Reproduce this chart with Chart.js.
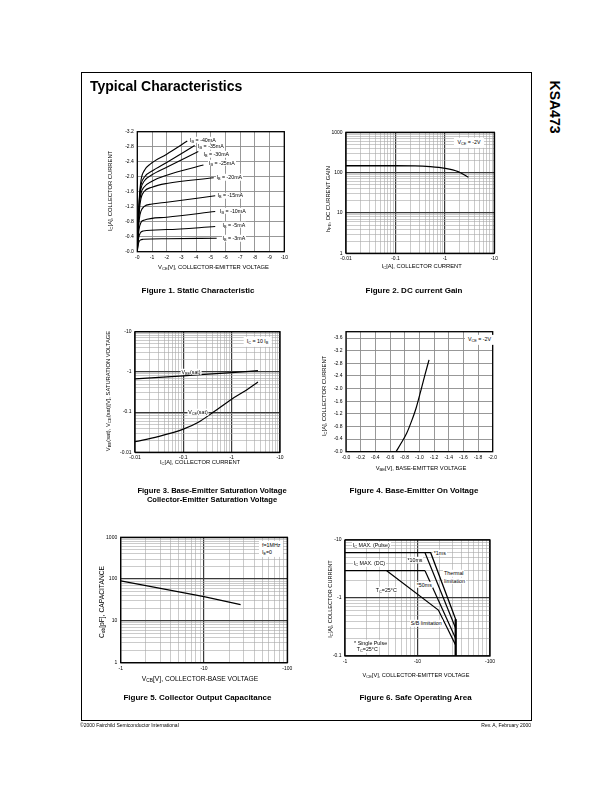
<!DOCTYPE html>
<html><head><meta charset="utf-8">
<script src="https://cdn.jsdelivr.net/npm/chart.js@4/dist/chart.umd.min.js"></script>
<style>
body{margin:0;background:#fff;}
#page{position:relative;width:612px;height:792px;overflow:hidden;font-family:'Liberation Sans',Arial,Helvetica,sans-serif;color:#000;background:#fff;}
canvas{position:absolute;}
.t{position:absolute;white-space:nowrap;line-height:1;z-index:3;}
.t sub{font-size:72%;vertical-align:-0.3em;line-height:0;}
</style></head><body><div id="page"></div>
<script>
// ---------------- DATA ----------------
// Figure 1 : Static Characteristic (|VCE| in V, |IC| in A)
const fig1VceTicks = [0,1,2,3,4,5,6,7,8,9,10];
const fig1VceLabels = ['-0','-1','-2','-3','-4','-5','-6','-7','-8','-9','-10'];
const fig1IcTicks = [0,0.4,0.8,1.2,1.6,2.0,2.4,2.8,3.2];
const fig1IcLabels = ['-0.0','-0.4','-0.8','-1.2','-1.6','-2.0','-2.4','-2.8','-3.2'];
const fig1Ib = ['-40mA','-35mA','-30mA','-25mA','-20mA','-15mA','-10mA','-5mA','-3mA'];
const fig1Vce_40 = [0,0.05,0.14,0.25,0.5,0.86,2,3.4];
const fig1Ic_40  = [0,0.6,1.45,1.9,2.18,2.33,2.6,2.95];
const fig1Vce_35 = [0,0.05,0.14,0.25,0.5,1,2,3.9];
const fig1Ic_35  = [0,0.6,1.4,1.78,2.0,2.15,2.38,2.83];
const fig1Vce_30 = [0,0.05,0.14,0.25,0.5,1,2,4.15];
const fig1Ic_30  = [0,0.58,1.35,1.68,1.9,2.05,2.25,2.67];
const fig1Vce_25 = [0,0.05,0.14,0.25,0.45,1,2,4.5];
const fig1Ic_25  = [0,0.55,1.25,1.55,1.72,1.88,2.04,2.31];
const fig1Vce_20 = [0,0.05,0.14,0.25,0.45,1,2,5.2];
const fig1Ic_20  = [0,0.5,1.1,1.42,1.6,1.72,1.82,1.97];
const fig1Vce_15 = [0,0.05,0.14,0.25,0.45,1,2,5.3];
const fig1Ic_15  = [0,0.42,0.88,1.08,1.2,1.27,1.32,1.49];
const fig1Vce_10 = [0,0.05,0.12,0.25,0.45,2,5.3];
const fig1Ic_10  = [0,0.33,0.6,0.78,0.84,0.92,1.07];
const fig1Vce_5  = [0,0.04,0.1,0.2,0.4,2,5.3];
const fig1Ic_5   = [0,0.2,0.38,0.5,0.55,0.59,0.67];
const fig1Vce_3  = [0,0.04,0.1,0.2,0.4,2,5.4];
const fig1Ic_3   = [0,0.14,0.25,0.31,0.33,0.345,0.36];

// Figure 2 : DC current gain
const fig2IcTicks = [0.01,0.1,1,10];
const fig2IcLabels = ['-0.01','-0.1','-1','-10'];
const fig2HfeTicks = [1,10,100,1000];
const fig2HfeLabels = ['1','10','100','1000'];
const fig2Ic  = [0.01,0.1,0.25,0.5,1,1.85,3];
const fig2Hfe = [148,148,147,141,128,106,77];

// Figure 3 : saturation voltages
const fig3IcTicks = [0.01,0.1,1,10];
const fig3IcLabels = ['-0.01','-0.1','-1','-10'];
const fig3VTicks = [0.01,0.1,1,10];
const fig3VLabels = ['-0.01','-0.1','-1','-10'];
const fig3IcBe = [0.01,0.1,1,3.5];
const fig3Vbe  = [0.67,0.8,0.96,1.07];
const fig3IcCe = [0.01,0.03,0.1,0.2,0.42,1,2,3.5];
const fig3Vce  = [0.0184,0.0245,0.0376,0.055,0.1,0.21,0.35,0.56];

// Figure 4 : base-emitter on voltage
const fig4VbeTicks = [0,0.2,0.4,0.6,0.8,1.0,1.2,1.4,1.6,1.8,2.0];
const fig4VbeLabels = ['-0.0','-0.2','-0.4','-0.6','-0.8','-1.0','-1.2','-1.4','-1.6','-1.8','-2.0'];
const fig4IcTicks = [0,0.4,0.8,1.2,1.6,2.0,2.4,2.8,3.2,3.6];
const fig4IcLabels = ['-0.0','-0.4','-0.8','-1.2','-1.6','-2.0','-2.4','-2.8','-3.2','-3.6'];
const fig4Vbe = [0.682,0.759,0.827,0.895,0.955,1.023,1.077,1.132];
const fig4Ic  = [0,0.297,0.583,0.975,1.377,1.96,2.44,2.91];

// Figure 5 : collector output capacitance
const fig5VcbTicks = [1,10,100];
const fig5VcbLabels = ['-1','-10','-100'];
const fig5CobTicks = [1,10,100,1000];
const fig5CobLabels = ['1','10','100','1000'];
const fig5Vcb = [1,3,10,27.5];
const fig5Cob = [91,60,38,24.5];

// Figure 6 : safe operating area
const fig6VceTicks = [1,10,100];
const fig6VceLabels = ['-1','-10','-100'];
const fig6IcTicks = [0.1,1,10];
const fig6IcLabels = ['-0.1','-1','-10'];
const fig6Vce_1ms = [1,15.2,33.6,33.6];
const fig6Ic_1ms  = [6.05,6.05,0.43,0.1];
const fig6Vce_10ms = [12.7,33.6];
const fig6Ic_10ms  = [6.05,0.30];
const fig6Vce_50ms = [12.7,33.6];
const fig6Ic_50ms  = [2.96,0.20];
const fig6Vce_dcMax = [1,12.7];
const fig6Ic_dcMax  = [2.96,2.96];
const fig6Vce_tc = [3.76,19.4,33.6];
const fig6Ic_tc  = [2.96,0.62,0.154];

// ---------------- RENDER ----------------
const FONT = "'Liberation Sans', Arial, Helvetica, sans-serif";
const page = document.getElementById('page');
Chart.defaults.font.family = FONT;

function logGrid(min,max){
  const out=[];
  for(let e=Math.floor(Math.log10(min)); e<=Math.ceil(Math.log10(max)); e++)
    for(let m=1;m<10;m++){ const v=m*Math.pow(10,e); if(v>=min*0.999 && v<=max*1.001) out.push(v); }
  return out;
}
function scaleCfg(o){
  const log = o.type==='logarithmic';
  let tks;
  if(log){
    tks = logGrid(o.min,o.max).map(v=>({value:v,major:false}));
    o.vals.forEach(v=>{ const t=tks.find(t=>Math.abs(Math.log10(t.value/v))<1e-6); if(t){t.value=v;t.major=true;} });
  } else tks = o.vals.map(v=>({value:v,major:true}));
  return {
    type:o.type, min:o.min, max:o.max, position:o.pos,
    afterBuildTicks: s=>{ s.ticks = tks.map(t=>({value:t.value,major:t.major})); },
    afterFit: s=>{ if(o.pos==='left') s.width=o.size; else s.height=o.size; s.paddingLeft=0; s.paddingRight=0; s.paddingTop=0; s.paddingBottom=0; },
    ticks:{autoSkip:false,maxRotation:0,minRotation:0,padding:o.pos==='left'?3.5:2.5,color:'#000',
      font:{family:FONT,size:5},
      callback:(v,i,arr)=>{ if(!arr[i].major) return ''; const k=o.vals.indexOf(v); return k>=0?o.labels[k]:''; }},
    grid:{drawTicks:false,
      color:c=>{ const mj=c.tick&&c.tick.major; return log ? (mj?'#3a3a3a':'#a8a8a8') : '#8c8c8c'; },
      lineWidth:c=>{ const mj=c.tick&&c.tick.major; return log ? (mj?1.2:0.6) : 0.9; }},
    border:{display:false}
  };
}
const frameBox = {id:'frameBox', beforeDatasetsDraw(chart){
  const a=chart.chartArea, c=chart.ctx; c.save(); c.strokeStyle='#000'; c.lineWidth=1.3;
  c.strokeRect(a.left,a.top,a.right-a.left,a.bottom-a.top); c.restore(); }};

function series(xs,ys,w,smooth){
  return {data:xs.map((x,i)=>({x:x,y:ys[i]})), showLine:true, borderColor:'#000', backgroundColor:'#000',
    borderWidth:w||1.1, pointRadius:0, fill:false,
    cubicInterpolationMode: smooth?'monotone':'default', tension:0};
}
function mkChart(P,xo,yo,datasets){
  const cl=Math.floor(P.L)-30, ct=Math.floor(P.T)-8;
  const cw=Math.ceil(P.R)+10-cl, ch=Math.ceil(P.B)+14-ct;
  const cv=document.createElement('canvas');
  cv.width=cw; cv.height=ch;
  cv.style.left=cl+'px'; cv.style.top=ct+'px'; cv.style.width=cw+'px'; cv.style.height=ch+'px';
  page.appendChild(cv);
  xo.pos='bottom'; xo.size=12; yo.pos='left'; yo.size=P.L-cl;
  new Chart(cv,{type:'scatter',data:{datasets:datasets},
    options:{responsive:false,animation:false,devicePixelRatio:1,
      layout:{padding:{left:0,top:P.T-ct,right:cl+cw-P.R,bottom:ct+ch-P.B-12}},
      plugins:{legend:{display:false},tooltip:{enabled:false}},
      scales:{x:scaleCfg(xo),y:scaleCfg(yo)}},
    plugins:[frameBox]});
}

// Figure 1
mkChart({L:137.3,T:131.7,R:284.3,B:251.7},
  {type:'linear',min:0,max:10,vals:fig1VceTicks,labels:fig1VceLabels},
  {type:'linear',min:0,max:3.2,vals:fig1IcTicks,labels:fig1IcLabels},
  [series(fig1Vce_40,fig1Ic_40,1.1,true),series(fig1Vce_35,fig1Ic_35,1.1,true),series(fig1Vce_30,fig1Ic_30,1.1,true),
   series(fig1Vce_25,fig1Ic_25,1.1,true),series(fig1Vce_20,fig1Ic_20,1.1,true),series(fig1Vce_15,fig1Ic_15,1.1,true),
   series(fig1Vce_10,fig1Ic_10,1.1,true),series(fig1Vce_5,fig1Ic_5,1.1,true),series(fig1Vce_3,fig1Ic_3,1.1,true)]);
// Figure 2
mkChart({L:346,T:132.3,R:494.3,B:253.3},
  {type:'logarithmic',min:0.01,max:10,vals:fig2IcTicks,labels:fig2IcLabels},
  {type:'logarithmic',min:1,max:1000,vals:fig2HfeTicks,labels:fig2HfeLabels},
  [series(fig2Ic,fig2Hfe,1.3,true)]);
// Figure 3
mkChart({L:135,T:331.7,R:280,B:452.3},
  {type:'logarithmic',min:0.01,max:10,vals:fig3IcTicks,labels:fig3IcLabels},
  {type:'logarithmic',min:0.01,max:10,vals:fig3VTicks,labels:fig3VLabels},
  [series(fig3IcBe,fig3Vbe,1.2,true),series(fig3IcCe,fig3Vce,1.2,true)]);
// Figure 4
mkChart({L:346,T:331.7,R:492.7,B:451.7},
  {type:'linear',min:0,max:2.0,vals:fig4VbeTicks,labels:fig4VbeLabels},
  {type:'linear',min:0,max:3.8,vals:fig4IcTicks,labels:fig4IcLabels},
  [series(fig4Vbe,fig4Ic,1.2,true)]);
// Figure 5
mkChart({L:120.7,T:537.3,R:287.3,B:662.7},
  {type:'logarithmic',min:1,max:100,vals:fig5VcbTicks,labels:fig5VcbLabels},
  {type:'logarithmic',min:1,max:1000,vals:fig5CobTicks,labels:fig5CobLabels},
  [series(fig5Vcb,fig5Cob,1.2,false)]);
// Figure 6
mkChart({L:345,T:540,R:490,B:656},
  {type:'logarithmic',min:1,max:100,vals:fig6VceTicks,labels:fig6VceLabels},
  {type:'logarithmic',min:0.1,max:10,vals:fig6IcTicks,labels:fig6IcLabels},
  [series(fig6Vce_1ms,fig6Ic_1ms,1.3,false),series(fig6Vce_10ms,fig6Ic_10ms,1.2,false),
   series(fig6Vce_50ms,fig6Ic_50ms,1.2,false),series(fig6Vce_dcMax,fig6Ic_dcMax,1.3,false),
   series(fig6Vce_tc,fig6Ic_tc,1.2,false),
   series([33.6,33.6],[0.43,0.1],2.2,false)]);

// ---------------- TEXT ----------------
function txt(html,x,y,o){
  o=o||{};
  const d=document.createElement('div'); d.className='t'; d.innerHTML=html;
  d.style.fontSize=(o.size||5.5)+'px';
  if(o.bold) d.style.fontWeight='bold';
  if(o.bg){ d.style.background='#fff'; d.style.padding=o.pad||'0.6px 0.8px'; }
  if(o.ls) d.style.letterSpacing=o.ls+'px';
  const tx = o.align==='l'?'0':(o.align==='r'?'-100%':'-50%');
  d.style.left=x+'px'; d.style.top=y+'px';
  d.style.transform='translate('+tx+',-50%)'+(o.rot?' rotate('+o.rot+'deg)':'');
  page.appendChild(d); return d;
}
// frame
const fr=document.createElement('div');
fr.style.cssText='position:absolute;left:81px;top:71.7px;width:449px;height:647px;border:1.3px solid #000;z-index:1;';
page.appendChild(fr);
txt('Typical Characteristics',90,85.5,{size:14,bold:true,align:'l'});
txt('KSA473',554.5,107,{size:14,bold:true,rot:90});
txt('&copy;2000 Fairchild Semiconductor International',80,724.5,{size:5,align:'l'});
txt('Rev. A, February 2000',531,724.5,{size:5,align:'r'});

// captions
txt('Figure 1. Static Characteristic',198,291,{size:8,bold:true});
txt('Figure 2. DC current Gain',414,291,{size:8,bold:true});
txt('Figure 3. Base-Emitter Saturation Voltage',212,490.5,{size:7.6,bold:true});
txt('Collector-Emitter Saturation Voltage',212,499.5,{size:7.6,bold:true});
txt('Figure 4. Base-Emitter On Voltage',414,491,{size:8,bold:true});
txt('Figure 5. Collector Output Capacitance',197.5,698.3,{size:8,bold:true});
txt('Figure 6. Safe Operating Area',415.5,698.3,{size:8,bold:true});

// axis titles
const AT=5.8;
txt('I<sub>C</sub>[A], COLLECTOR CURRENT',110.5,191,{size:AT,rot:-90});
txt('V<sub>CE</sub>[V], COLLECTOR-EMITTER VOLTAGE',213.5,268.3,{size:AT});
txt('h<sub>FE</sub>, DC CURRENT GAIN',328.5,199,{size:AT,rot:-90});
txt('I<sub>C</sub>[A], COLLECTOR CURRENT',421.7,266.7,{size:AT});
txt('V<sub>BE</sub>(sat), V<sub>CE</sub>(sat)[V], SATURATION VOLTAGE',108.5,391,{size:AT,rot:-90});
txt('I<sub>C</sub>[A], COLLECTOR CURRENT',200,463,{size:AT});
txt('I<sub>C</sub>[A], COLLECTOR CURRENT',325,396,{size:AT,rot:-90});
txt('V<sub>BE</sub>[V], BASE-EMITTER VOLTAGE',421,469,{size:AT});
txt('C<sub>ob</sub>[pF], CAPACITANCE',101.5,602,{size:6.7,rot:-90});
txt('V<sub>CB</sub>[V], COLLECTOR-BASE VOLTAGE',200,679,{size:6.7});
txt('I<sub>C</sub>[A], COLLECTOR CURRENT',330.8,599,{size:5.6,rot:-90});
txt('V<sub>CE</sub>[V], COLLECTOR-EMITTER VOLTAGE',416,675.7,{size:5.6});

// Figure 1 labels
const fig1LabelPos=[[189.3,140],[197.3,146.7],[202.7,154.3],[208.3,163],[215.7,177.3],[216.7,195.7],[219.3,211],[221.7,225],[221.7,238.3]];
fig1Ib.forEach((s,i)=>txt('I<sub>B</sub> = '+s,fig1LabelPos[i][0],fig1LabelPos[i][1],{size:5.3,align:'l',bg:true}));
// Figure 2 label
txt('V<sub>CE</sub> = -2V',469,142.5,{size:5.3,bg:true,pad:'2.5px 3.5px'});
// Figure 3 labels
txt('V<sub>BE</sub>(sat)',191,372,{size:5.3,bg:true});
txt('V<sub>CE</sub>(sat)',198,412.3,{size:5.3,bg:true});
txt('I<sub>C</sub> = 10 I<sub>B</sub>',257.5,341.5,{size:5.3,bg:true,pad:'2.5px 3.5px'});
// Figure 4 label
txt('V<sub>CE</sub> = -2V',479.5,339.5,{size:5.3,bg:true,pad:'2.5px 3.5px'});
// Figure 5 label
txt('f=1MHz<br>I<sub>E</sub>=0',259,548.5,{size:5.3,bg:true,align:'l',pad:'1.5px 3px'}).style.lineHeight='1.25';
// Figure 6 labels
txt('I<sub>C</sub> MAX. (Pulse)',352,545,{size:5.3,align:'l',bg:true});
txt('*1ms',433,553,{size:5.3,align:'l',bg:true});
txt('*10ms',406.7,560,{size:5.3,align:'l',bg:true});
txt('I<sub>C</sub> MAX. (DC)',353,563.3,{size:5.3,align:'l',bg:true});
txt('Thermal',443.3,573.3,{size:5.3,align:'l',bg:true});
txt('limitation',443.3,581,{size:5.3,align:'l',bg:true});
txt('*50ms',416,585,{size:5.3,align:'l',bg:true});
txt('T<sub>C</sub>=25&deg;C',375,590,{size:5.3,align:'l',bg:true});
txt('S/B limitation',410,623.3,{size:5.3,align:'l',bg:true});
txt('* Single Pulse',353.3,643.3,{size:5.3,align:'l',bg:true});
txt('T<sub>C</sub>=25&deg;C',356,649.3,{size:5.3,align:'l',bg:true});
</script></body></html>
